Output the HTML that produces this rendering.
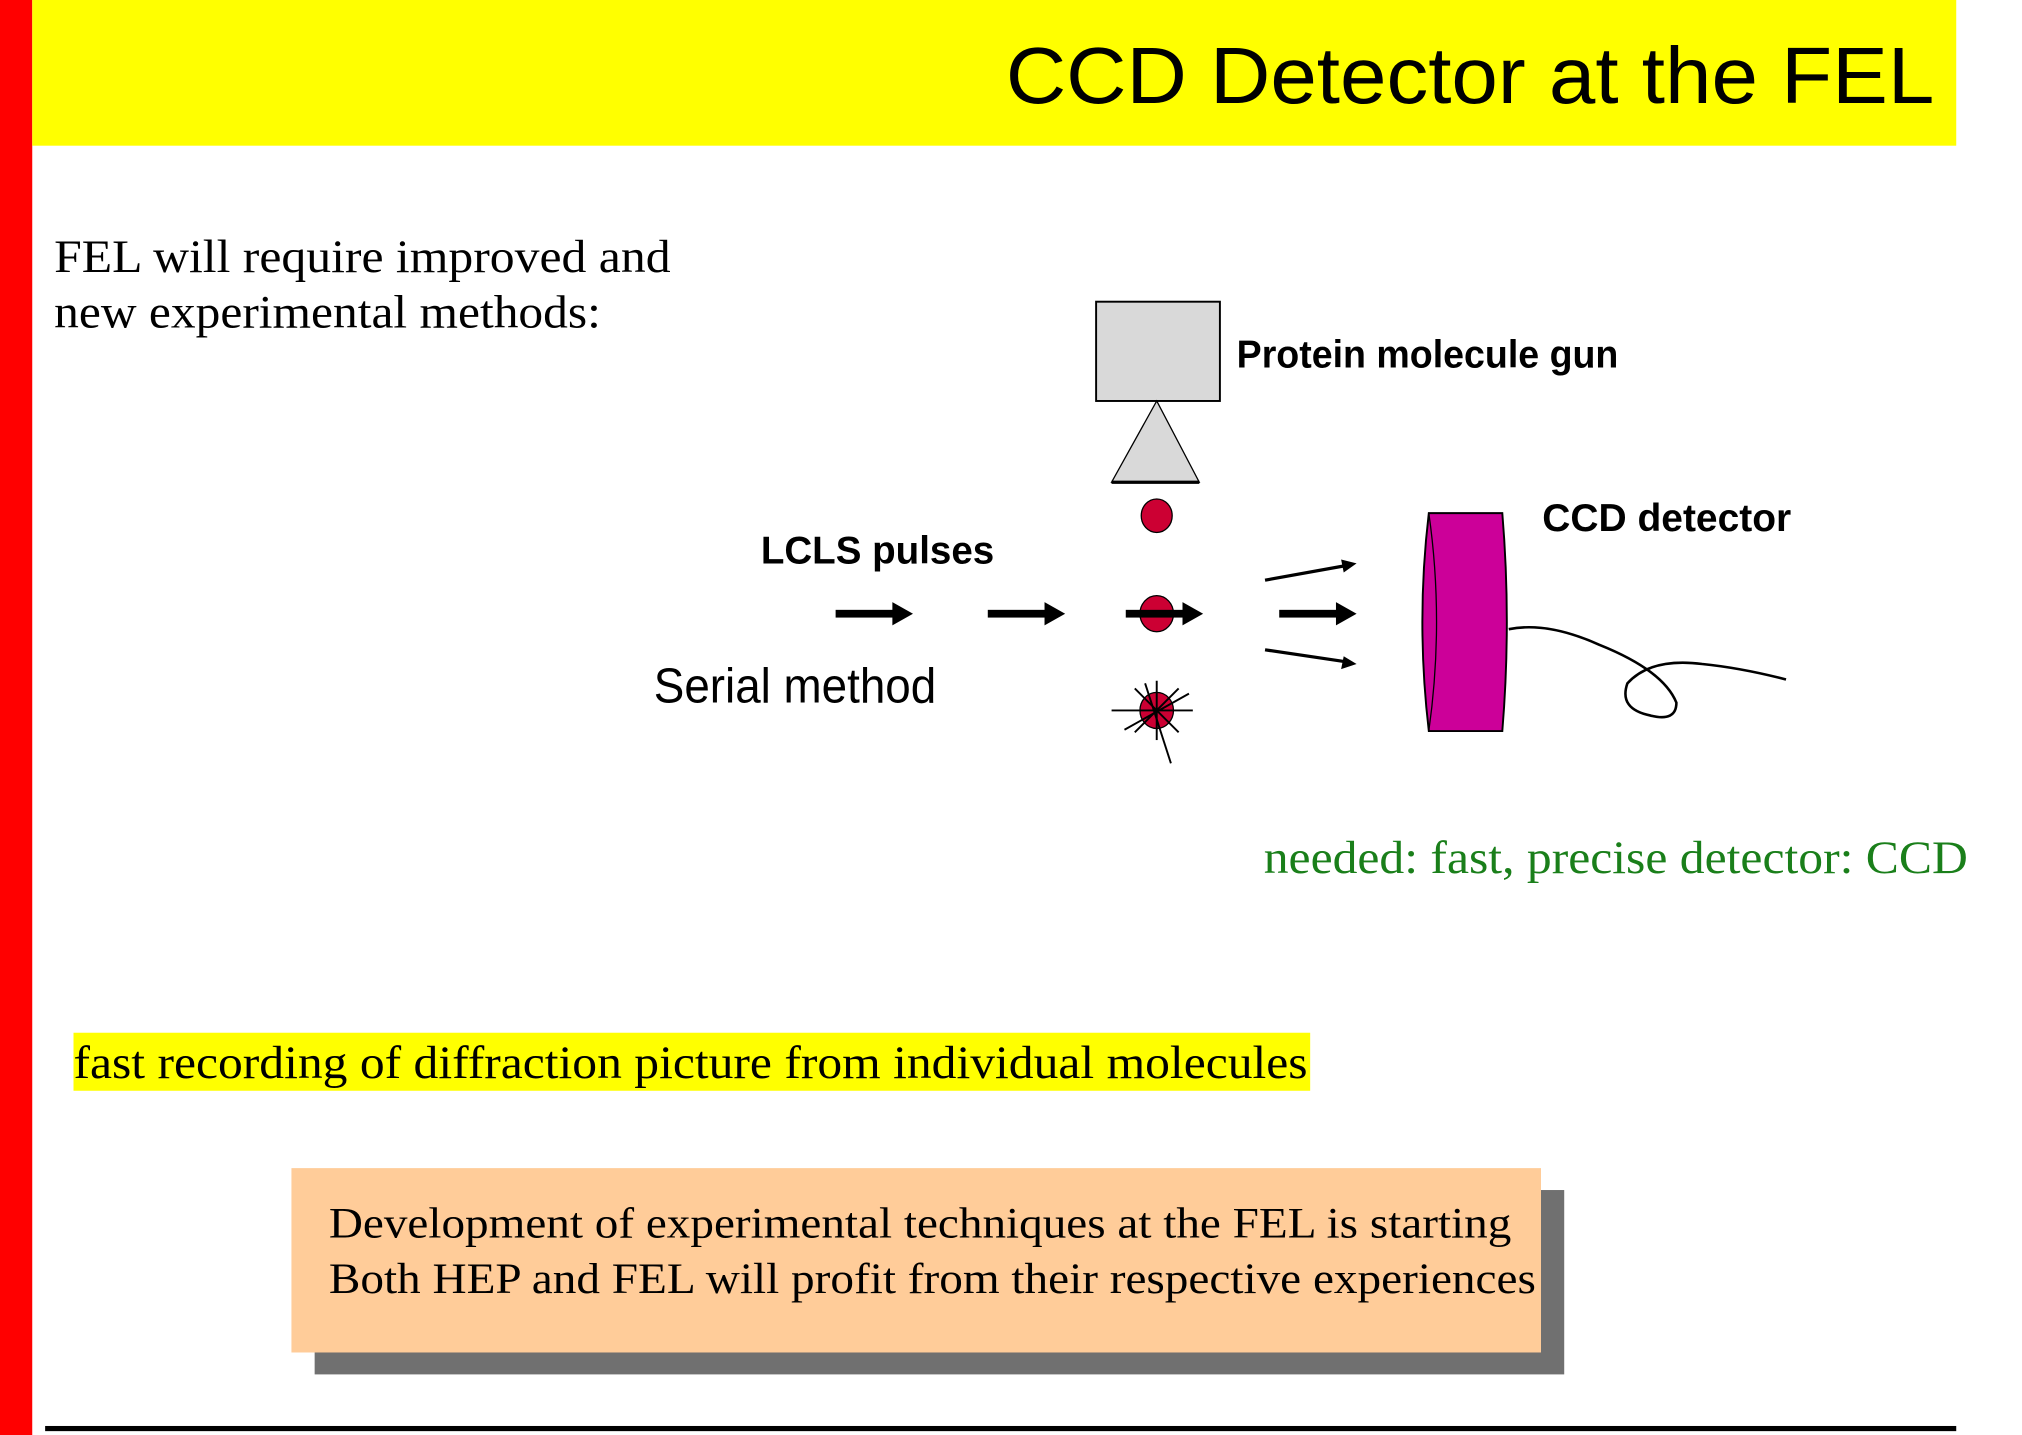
<!DOCTYPE html>
<html><head><meta charset="utf-8"><style>html,body{margin:0;padding:0;background:#fff}svg{display:block}</style></head>
<body>
<svg width="2022" height="1435" viewBox="0 0 1568 1113" preserveAspectRatio="none" xmlns="http://www.w3.org/2000/svg">
<rect x="0" y="0" width="1568" height="1113" fill="#fff"/>
<rect x="0" y="0" width="25" height="1113" fill="#ff0000"/>
<rect x="25" y="0" width="1492" height="113" fill="#ffff00"/>
<text x="780" y="80" font-family="Liberation Sans, sans-serif" font-size="62" textLength="720" lengthAdjust="spacingAndGlyphs">CCD Detector at the FEL</text>
<g font-family="Liberation Serif, serif" font-size="36">
<text x="42" y="211" textLength="478" lengthAdjust="spacingAndGlyphs">FEL will require improved and</text>
<text x="42" y="254" textLength="424" lengthAdjust="spacingAndGlyphs">new experimental methods:</text>
<text x="980" y="677" fill="#1a7f1a" textLength="546" lengthAdjust="spacingAndGlyphs">needed: fast, precise detector: CCD</text>
</g>
<rect x="850" y="234" width="96" height="77" fill="#d9d9d9" stroke="#000" stroke-width="1.5"/>
<polygon points="897,311 930,374 862,374" fill="#d9d9d9" stroke="#000" stroke-width="1"/>
<line x1="862" y1="374" x2="930" y2="374" stroke="#000" stroke-width="2.5"/>
<g fill="#cc0033" stroke="#000" stroke-width="1">
<ellipse cx="897" cy="400" rx="12" ry="13"/>
<ellipse cx="897" cy="476" rx="13" ry="14"/>
<ellipse cx="897" cy="551" rx="13" ry="14"/>
</g>
<g stroke="#000" stroke-width="1.5">
<line x1="897" y1="528" x2="897" y2="574"/><line x1="880" y1="534" x2="914" y2="568"/>
<line x1="914" y1="534" x2="880" y2="568"/><line x1="862" y1="551" x2="925" y2="551"/>
<line x1="888" y1="530" x2="908" y2="592"/><line x1="872" y1="566" x2="922" y2="538"/>
</g>
<g fill="#000">
<rect x="648" y="473" width="46" height="6"/><polygon points="692,467 708,476 692,485"/>
<rect x="766" y="473" width="46" height="6"/><polygon points="810,467 826,476 810,485"/>
<rect x="873" y="473" width="46" height="6"/><polygon points="917,467 933,476 917,485"/>
<rect x="992" y="473" width="46" height="6"/><polygon points="1036,467 1052,476 1036,485"/>
</g>
<g stroke="#000" stroke-width="2.5">
<line x1="981" y1="450" x2="1042" y2="439"/><line x1="981" y1="504" x2="1042" y2="513"/>
</g>
<polygon points="1052,437 1040,434 1042,444" fill="#000"/>
<polygon points="1052,515 1042,509 1040,519" fill="#000"/>
<path d="M1108,398 L1165,398 Q1172,482 1165,567 L1108,567 Q1098,482 1108,398 Z" fill="#cc0099" stroke="#000" stroke-width="1.5"/>
<path d="M1108,398 Q1120,482 1108,567" fill="none" stroke="#000" stroke-width="1"/>
<path d="M1170,488 Q1200,482 1240,500 Q1290,520 1300,545 Q1300,560 1280,555 Q1255,550 1262,530 Q1280,510 1320,515 Q1350,518 1385,527" fill="none" stroke="#000" stroke-width="2"/>
<g font-family="Liberation Sans, sans-serif" font-weight="bold">
<text x="959" y="285" font-size="30" textLength="296" lengthAdjust="spacingAndGlyphs">Protein molecule gun</text>
<text x="1196" y="412" font-size="30" textLength="193" lengthAdjust="spacingAndGlyphs">CCD detector</text>
<text x="590" y="437" font-size="30" textLength="181" lengthAdjust="spacingAndGlyphs">LCLS pulses</text>
</g>
<text x="507" y="545" font-family="Liberation Sans, sans-serif" font-size="38" textLength="219" lengthAdjust="spacingAndGlyphs">Serial method</text>
<rect x="57" y="801" width="959" height="45" fill="#ffff00"/>
<text x="57" y="836" font-family="Liberation Serif, serif" font-size="36" textLength="957" lengthAdjust="spacingAndGlyphs">fast recording of diffraction picture from individual molecules</text>
<rect x="244" y="923" width="969" height="143" fill="#707070"/>
<rect x="226" y="906" width="969" height="143" fill="#ffcc99"/>
<g font-family="Liberation Serif, serif" font-size="34">
<text x="255" y="960" textLength="917" lengthAdjust="spacingAndGlyphs">Development of experimental techniques at the FEL is starting</text>
<text x="255" y="1003" textLength="936" lengthAdjust="spacingAndGlyphs">Both HEP and FEL will profit from their respective experiences</text>
</g>
<rect x="35" y="1106" width="1482" height="4" fill="#000"/>
</svg>
</body></html>
